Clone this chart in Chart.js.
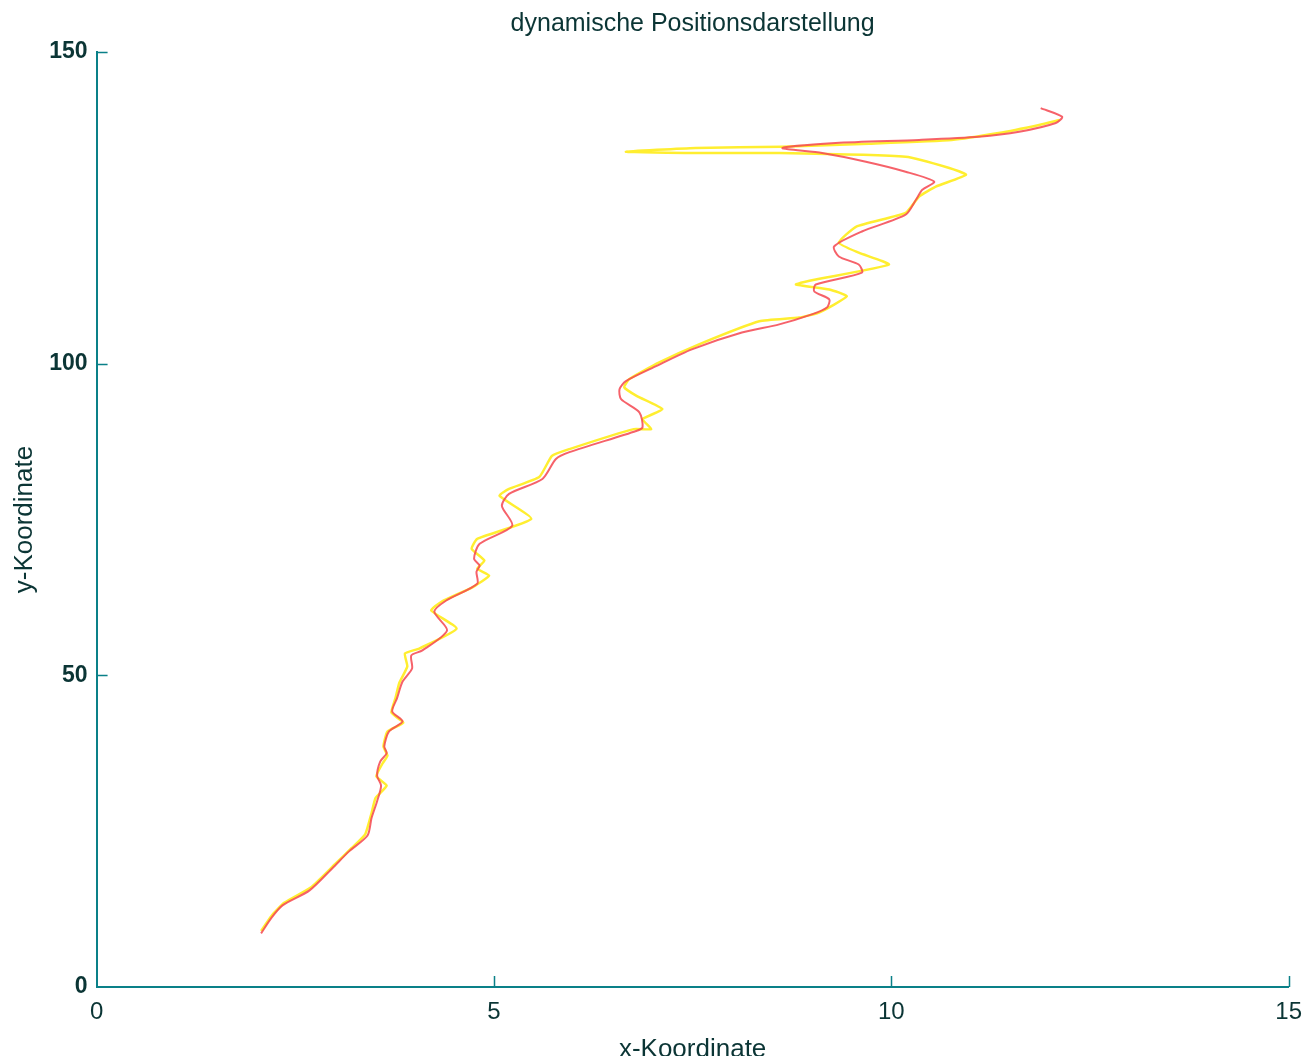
<!DOCTYPE html>
<html>
<head>
<meta charset="utf-8">
<title>dynamische Positionsdarstellung</title>
<script src="https://cdn.jsdelivr.net/npm/chart.js@4/dist/chart.umd.min.js"></script>
<style>
  html, body { margin: 0; padding: 0; background: #fff; }
  #wrap { width: 1315px; height: 1056px; position: relative; }
</style>
</head>
<body>
<div id="wrap"><canvas id="bahn"></canvas></div>
<script>
// Position (rot)
const rotX = [2.07, 2.20, 2.34, 2.68, 2.97, 3.18, 3.41, 3.46, 3.53, 3.58, 3.53, 3.57, 3.65, 3.62, 3.68, 3.85,
  3.72, 3.78, 3.85, 3.97, 3.96, 4.10, 4.41, 4.25, 4.40, 4.79, 4.78, 4.82, 4.75, 4.82, 5.23, 5.10, 5.19,
  5.61, 5.78, 5.95, 6.79, 6.87, 6.83, 6.60, 6.58, 6.66, 7.04, 7.49, 8.12, 8.59, 9.00, 9.19, 9.22, 9.03,
  9.05, 9.63, 9.59, 9.34, 9.28, 9.63, 10.18, 10.31, 10.39, 10.54, 10.18, 9.68, 9.13, 8.63, 9.30, 10.35,
  11.10, 11.61, 12.07, 12.15, 11.88];
const rotY = [8.6, 11.1, 13.1, 15.5, 19.1, 21.8, 24.3, 27.1, 29.8, 32.3, 33.9, 36.2, 37.5, 38.6, 41.0, 42.6,
  44.2, 46.3, 49.0, 51.1, 53.2, 54.0, 57.2, 60.2, 62.0, 64.7, 66.6, 67.6, 68.7, 71.1, 74.0, 77.2, 79.1,
  81.5, 84.7, 85.8, 89.2, 89.8, 92.2, 94.3, 95.9, 97.2, 99.6, 102.3, 105.0, 106.3, 107.9, 109.0, 110.3, 111.6,
  112.7, 114.6, 115.9, 117.2, 118.8, 121.2, 123.9, 126.3, 127.9, 129.2, 130.8, 132.4, 133.8, 134.6, 135.4, 135.9,
  136.4, 137.2, 138.6, 139.6, 141.0];

// Position (gelb)
const gelbX = [2.07, 2.20, 2.36, 2.70, 3.00, 3.21, 3.38, 3.46, 3.51, 3.65, 3.52, 3.60, 3.66, 3.61, 3.66, 3.86,
  3.71, 3.76, 3.81, 3.91, 3.88, 4.06, 4.53, 4.21, 4.34, 4.74, 4.94, 4.79, 4.88, 4.72, 4.79, 5.47, 5.07,
  5.19, 5.57, 5.73, 5.95, 6.76, 6.98, 6.87, 7.12, 6.80, 6.64, 6.70, 7.08, 7.58, 8.34, 8.84, 9.09, 9.44,
  9.22, 8.80, 9.05, 9.97, 9.59, 9.34, 9.56, 10.18, 10.35, 10.56, 10.94, 10.73, 10.18, 8.59, 7.49, 6.66,
  7.54, 8.63, 9.72, 10.76, 11.35, 11.86, 12.12];
const gelbY = [9.0, 11.4, 13.5, 16.0, 19.7, 22.3, 24.5, 27.9, 30.3, 32.3, 33.8, 35.9, 37.1, 38.6, 41.0, 42.4,
  44.0, 46.3, 48.8, 51.4, 53.5, 54.3, 57.5, 60.4, 61.8, 64.2, 66.0, 67.1, 68.4, 70.3, 71.9, 75.1, 78.8,
  79.9, 81.8, 85.2, 86.3, 89.5, 89.5, 91.1, 92.7, 94.8, 96.2, 97.5, 100.2, 103.1, 106.8, 107.4, 108.2, 110.8,
  111.9, 112.7, 113.5, 115.9, 117.8, 119.4, 122.0, 124.2, 126.8, 128.4, 130.3, 131.4, 133.2, 133.8, 133.8, 134.0,
  134.6, 134.8, 135.3, 135.9, 137.0, 138.3, 139.1];

const xTicks = [0, 5, 10, 15];
const yTicks = [0, 50, 100, 150];

const textFarbe = '#0b3535';
const achsFarbe = '#0a8088';

function punkte(xs, ys) {
  return xs.map((x, i) => ({ x: x, y: ys[i] }));
}

// kurze Striche nach innen, wie im Original
const innenTicks = {
  id: 'innenTicks',
  afterDraw(chart) {
    const { ctx, chartArea, scales } = chart;
    ctx.save();
    ctx.strokeStyle = achsFarbe;
    ctx.lineWidth = 1.5;
    ctx.beginPath();
    xTicks.forEach(v => {
      if (v === 0) return;
      const px = Math.round(scales.x.getPixelForValue(v)) + 0.5;
      ctx.moveTo(px, chartArea.bottom);
      ctx.lineTo(px, chartArea.bottom - 11);
    });
    yTicks.forEach(v => {
      if (v === 0) return;
      const py = Math.round(scales.y.getPixelForValue(v)) + 0.5;
      ctx.moveTo(chartArea.left, py);
      ctx.lineTo(chartArea.left + 11, py);
    });
    ctx.stroke();
    ctx.restore();
  }
};

new Chart(document.getElementById('bahn'), {
  type: 'scatter',
  data: {
    datasets: [
      {
        label: 'rot',
        data: punkte(rotX, rotY),
        showLine: true,
        borderColor: 'rgba(245, 70, 80, 0.85)',
        borderWidth: 2,
        pointRadius: 0,
        tension: 0.25,
        order: 0
      },
      {
        label: 'gelb',
        data: punkte(gelbX, gelbY),
        showLine: true,
        borderColor: '#ffee30',
        borderWidth: 2.5,
        pointRadius: 0,
        tension: 0.15,
        order: 1
      }
    ]
  },
  options: {
    responsive: true,
    maintainAspectRatio: false,
    animation: false,
    layout: { padding: { left: 9, right: 25, top: 0, bottom: -7 } },
    plugins: {
      legend: { display: false },
      tooltip: { enabled: false },
      title: {
        display: true,
        fullSize: false,
        text: 'dynamische Positionsdarstellung',
        color: textFarbe,
        font: { family: 'Liberation Sans', size: 25, weight: 'normal' },
        padding: { top: 9, bottom: 13 }
      }
    },
    scales: {
      x: {
        type: 'linear',
        min: 0,
        max: 15,
        afterBuildTicks(scale) { scale.ticks = xTicks.map(v => ({ value: v })); },
        grid: { display: false, drawTicks: false },
        border: { display: true, color: achsFarbe, width: 2 },
        ticks: {
          color: textFarbe,
          padding: 13,
          maxRotation: 0,
          font: { family: 'Liberation Sans', size: 24, lineHeight: 1 }
        },
        title: {
          display: true,
          text: 'x-Koordinate',
          color: textFarbe,
          padding: { top: 0, bottom: 0 },
          font: { family: 'Liberation Sans', size: 26, lineHeight: 1 }
        }
      },
      y: {
        type: 'linear',
        min: 0,
        max: 150,
        afterBuildTicks(scale) { scale.ticks = yTicks.map(v => ({ value: v })); },
        grid: { display: false, drawTicks: false },
        border: { display: true, color: achsFarbe, width: 2 },
        ticks: {
          color: textFarbe,
          padding: 9,
          font: { family: 'Liberation Sans', size: 23, weight: 'bold' }
        },
        title: {
          display: true,
          text: 'y-Koordinate',
          color: textFarbe,
          padding: { top: 0, bottom: 0 },
          font: { family: 'Liberation Sans', size: 26 }
        }
      }
    }
  },
  plugins: [innenTicks]
});
</script>
</body>
</html>
